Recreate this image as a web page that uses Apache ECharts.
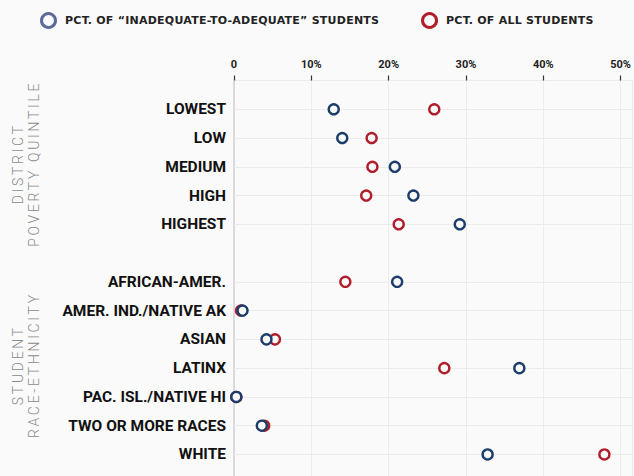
<!DOCTYPE html>
<html>
<head>
<meta charset="utf-8">
<script src="https://cdn.jsdelivr.net/npm/echarts@6/dist/echarts.min.js"></script>
<style>
  html, body { margin: 0; padding: 0; background: #fafafa; }
  #chart { width: 634px; height: 476px; }
  /* tracking for the rotated group titles and the legend */
  #chart text[fill="#8a8a8b"] { letter-spacing: 2.7px; }
  #chart text[fill="#222223"] { letter-spacing: 0.25px; }
</style>
</head>
<body>
<div id="chart"></div>
<script>
// rows top to bottom, '' is the spacer between the two groups
const categories = ['LOWEST', 'LOW', 'MEDIUM', 'HIGH', 'HIGHEST', '',
  'AFRICAN-AMER.', 'AMER. IND./NATIVE AK', 'ASIAN', 'LATINX',
  'PAC. ISL./NATIVE HI', 'TWO OR MORE RACES', 'WHITE'];
const inadequatePct = [12.9, 14.0, 20.8, 23.2, 29.2, null, 21.1, 1.1, 4.2, 36.9, 0.3, 3.6, 32.8];
const allStudentsPct = [25.9, 17.8, 17.9, 17.1, 21.3, null, 14.4, 0.9, 5.3, 27.2, 0.3, 3.9, 47.9];
const groups = [
  { text: 'DISTRICT\nPOVERTY QUINTILE', from: 0, to: 4 },
  { text: 'STUDENT\nRACE-ETHNICITY', from: 6, to: 12 }
];
const xTicks = [0, 10, 20, 30, 40, 50];

const BLUE = '#1c3d6c';
const BLUE_LEGEND = '#5c6a98';
const RED = '#b01e2c';
const BG = '#fafafa';

function toPoints(values) {
  const pts = [];
  values.forEach((v, i) => { if (v !== null) pts.push([v, i]); });
  return pts;
}

const chart = echarts.init(document.getElementById('chart'), null, { renderer: 'svg' });

const rowLines = [];
categories.forEach((c, i) => { if (c) rowLines.push({ yAxis: i }); });

const option = {
  backgroundColor: BG,
  animation: false,
  legend: {
    top: 12,
    left: 40,
    padding: 0,
    itemWidth: 23,
    itemHeight: 14,
    itemGap: 52,
    icon: 'circle',
    selectedMode: false,
    textStyle: { fontFamily: 'DejaVu Sans', fontWeight: 'bold', fontSize: 11, color: '#222223' },
    data: [
      { name: 'PCT. OF \u201CINADEQUATE-TO-ADEQUATE\u201D STUDENTS',
        itemStyle: { color: BG, borderColor: BLUE_LEGEND, borderWidth: 3 } },
      { name: 'PCT. OF ALL STUDENTS',
        itemStyle: { color: BG, borderColor: RED, borderWidth: 3 } }
    ]
  },
  grid: { left: 234, right: 0, top: 80.5, bottom: 0 },
  xAxis: {
    type: 'value',
    position: 'top',
    min: 0,
    max: 51.5,
    interval: 10,
    axisLine: { show: true, onZero: false, lineStyle: { color: '#ebebeb', width: 1 } },
    axisTick: { show: true, inside: false, length: 5, lineStyle: { color: '#333', width: 1.2 } },
    axisLabel: {
      showMaxLabel: false,
      margin: 11,
      fontFamily: 'Roboto', fontWeight: 'bold', fontSize: 11, color: '#222',
      formatter: v => xTicks.indexOf(v) < 0 ? '' : (v === 0 ? '0' : v + '%')
    },
    splitLine: { show: true, lineStyle: { color: '#ececec', width: 1 } }
  },
  yAxis: {
    type: 'value',
    inverse: true,
    min: -1,
    max: 12.75,
    interval: 1,
    axisLine: { show: true, onZero: false, lineStyle: { color: '#d2d2d2', width: 1.5 } },
    axisTick: { show: false },
    splitLine: { show: false },
    axisLabel: {
      margin: 8,
      fontFamily: 'Roboto', fontWeight: 'bold', fontSize: 15.5, color: '#111',
      formatter: v => (Number.isInteger(v) && categories[v]) ? categories[v] : ''
    }
  },
  series: [
    {
      name: 'PCT. OF ALL STUDENTS',
      type: 'scatter',
      data: toPoints(allStudentsPct),
      symbol: 'circle',
      symbolSize: 10,
      itemStyle: { color: BG, borderColor: RED, borderWidth: 2.4, opacity: 1 },
      emphasis: { disabled: true },
      markLine: {
        silent: true,
        z: 1,
        symbol: ['none', 'none'],
        label: { show: false },
        lineStyle: { color: '#ebebeb', width: 1, type: 'solid' },
        emphasis: { disabled: true },
        data: rowLines
      }
    },
    {
      name: 'PCT. OF \u201CINADEQUATE-TO-ADEQUATE\u201D STUDENTS',
      type: 'scatter',
      data: toPoints(inadequatePct),
      symbol: 'circle',
      symbolSize: 10,
      itemStyle: { color: BG, borderColor: BLUE, borderWidth: 2.4, opacity: 1 },
      emphasis: { disabled: true }
    }
  ]
};
chart.setOption(option);

// rotated group titles, centred on their rows
chart.setOption({
  graphic: groups.map(g => {
    const yc = chart.convertToPixel({ yAxisIndex: 0 }, (g.from + g.to) / 2);
    return {
      type: 'text',
      x: 26,
      y: yc - 3,
      rotation: Math.PI / 2,
      style: {
        text: g.text,
        fontFamily: 'Roboto',
        fontWeight: 300,
        fontSize: 14,
        lineHeight: 16,
        fill: '#8a8a8b',
        align: 'center',
        verticalAlign: 'middle'
      }
    };
  })
});
</script>
</body>
</html>
